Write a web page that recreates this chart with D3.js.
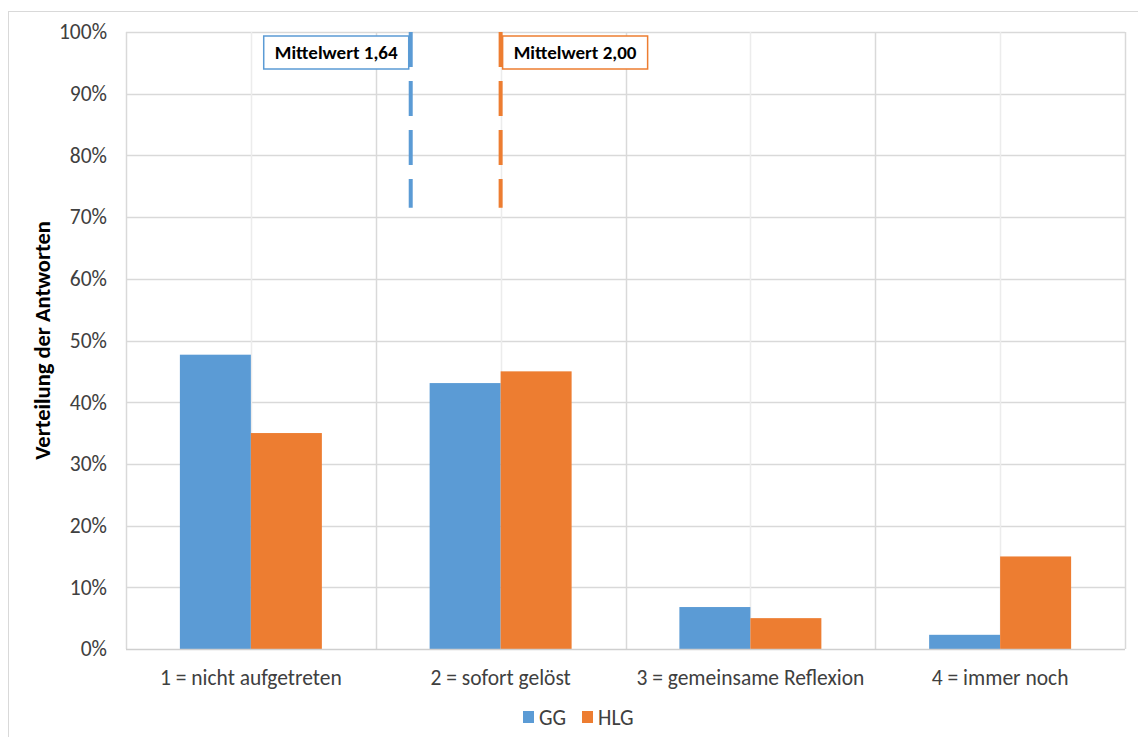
<!DOCTYPE html>
<html>
<head>
<meta charset="utf-8">
<script src="https://cdn.jsdelivr.net/npm/d3@7"></script>
<style>
  html, body { margin: 0; padding: 0; background: #fff; }
  svg { display: block; font-family: Carlito, Lato, "Liberation Sans", sans-serif; }
</style>
</head>
<body>
<svg id="chart" width="1138" height="737"></svg>
<script>
// Answer categories and the share of answers per group
const categories = ["1 = nicht aufgetreten", "2 = sofort gelöst", "3 = gemeinsame Reflexion", "4 = immer noch"];
const seriesNames = ["GG", "HLG"];
const ggValues = [0.477, 0.431, 0.068, 0.023];
const hlgValues = [0.35, 0.45, 0.05, 0.15];
const yTicks = [0, 0.1, 0.2, 0.3, 0.4, 0.5, 0.6, 0.7, 0.8, 0.9, 1.0];
// Group means on the 1–4 answer scale
const meanValues = [1.64, 2.00];
const meanLabels = ["Mittelwert 1,64", "Mittelwert 2,00"];
const meanSpan = [1.0, 0.715];

const colors = { GG: "#5b9bd5", HLG: "#ed7d31" };
const gridMajor = "#d9d9d9";
const gridMinor = "#ececec";
const textColor = "#404040";
const fontSize = 21.5;

const svg = d3.select("#chart");
const margin = { left: 126, top: 32, right: 1125, bottom: 649 };

// Outer chart frame
svg.append("rect")
  .attr("x", 8.5).attr("y", 11.5)
  .attr("width", 1150).attr("height", 760)
  .attr("fill", "none").attr("stroke", gridMajor).attr("stroke-width", 1);

const y = d3.scaleLinear().domain([0, 1]).range([margin.bottom, margin.top]);
const x = d3.scaleBand().domain(categories).range([margin.left, margin.right]).padding(0);
// Continuous position along the answer scale (1..4 at category centres)
const xs = d3.scaleLinear().domain([0.5, 4.5]).range([margin.left, margin.right]);
const bw = x.bandwidth();
const x1 = d3.scaleBand().domain(seriesNames).range([0, bw]).paddingInner(0).paddingOuter(0.759);

const grid = svg.append("g");
// Horizontal gridlines
grid.selectAll("line.h").data(yTicks.slice(1)).join("line")
  .attr("x1", margin.left).attr("x2", margin.right)
  .attr("y1", d => Math.round(y(d)) + 0.5).attr("y2", d => Math.round(y(d)) + 0.5)
  .attr("stroke", gridMajor).attr("stroke-width", 1.5);
// Minor vertical gridlines at category centres
grid.selectAll("line.vm").data([1, 2, 3, 4]).join("line")
  .attr("x1", d => Math.round(xs(d)) + 0.5).attr("x2", d => Math.round(xs(d)) + 0.5)
  .attr("y1", margin.top).attr("y2", margin.bottom)
  .attr("stroke", gridMinor).attr("stroke-width", 1.5);
// Major vertical gridlines at category boundaries
grid.selectAll("line.v").data([0.5, 1.5, 2.5, 3.5, 4.5]).join("line")
  .attr("x1", d => Math.round(xs(d)) + 0.5).attr("x2", d => Math.round(xs(d)) + 0.5)
  .attr("y1", margin.top).attr("y2", margin.bottom)
  .attr("stroke", gridMajor).attr("stroke-width", 1.5);

// Bars
const rows = categories.map((c, i) => ({ cat: c, GG: ggValues[i], HLG: hlgValues[i] }));
const groups = svg.append("g").selectAll("g").data(rows).join("g")
  .attr("transform", d => `translate(${x(d.cat)},0)`);
groups.selectAll("rect").data(d => seriesNames.map(s => ({ s, v: d[s] }))).join("rect")
  .attr("x", d => x1(d.s))
  .attr("width", x1.bandwidth())
  .attr("y", d => y(d.v))
  .attr("height", d => y(0) - y(d.v))
  .attr("fill", d => colors[d.s]);

// Baseline
svg.append("line")
  .attr("x1", margin.left).attr("x2", margin.right)
  .attr("y1", margin.bottom + 0.5).attr("y2", margin.bottom + 0.5)
  .attr("stroke", "#cfcfcf").attr("stroke-width", 1.5);

// Y axis labels
const yAxis = d3.axisLeft(y).tickValues(yTicks).tickFormat(d3.format(".0%")).tickSize(0).tickPadding(19);
const yg = svg.append("g").attr("transform", `translate(${margin.left},0)`).call(yAxis);
yg.select(".domain").remove();
yg.selectAll("text").attr("font-size", fontSize).attr("fill", textColor).attr("font-family", "Carlito, Lato, sans-serif");

// X axis labels
const xAxis = d3.axisBottom(x).tickSize(0).tickPadding(21);
const xg = svg.append("g").attr("transform", `translate(0,${margin.bottom})`).call(xAxis);
xg.select(".domain").remove();
xg.selectAll("text").attr("font-size", fontSize).attr("fill", textColor).attr("font-family", "Carlito, Lato, sans-serif");

// Y axis title
svg.append("text")
  .attr("transform", `translate(50,${(margin.top + margin.bottom) / 2}) rotate(-90)`)
  .attr("text-anchor", "middle")
  .attr("font-size", 22.5).attr("font-weight", "bold").attr("fill", "#000")
  .text("Verteilung der Antworten");

// Mean markers: dashed vertical lines with labelled boxes
const meanColors = [colors.GG, colors.HLG];
meanValues.forEach((m, i) => {
  const mx = xs(m);
  svg.append("line")
    .attr("x1", mx).attr("x2", mx)
    .attr("y1", y(meanSpan[0])).attr("y2", y(meanSpan[1]))
    .attr("stroke", meanColors[i]).attr("stroke-width", 4)
    .attr("stroke-dasharray", "35,14");
  const boxW = 145, boxH = 33, boxY = 36;
  const bx = i === 0 ? mx - 2 - boxW : mx + 2;
  svg.append("rect")
    .attr("x", bx).attr("y", boxY).attr("width", boxW).attr("height", boxH)
    .attr("fill", "#fff").attr("stroke", meanColors[i]).attr("stroke-width", 1.5);
  svg.append("text")
    .attr("x", bx + boxW / 2).attr("y", boxY + boxH / 2)
    .attr("dy", "0.35em").attr("text-anchor", "middle")
    .attr("font-size", 19).attr("font-weight", "bold").attr("fill", "#000")
    .text(meanLabels[i]);
});

// Legend
const legend = svg.append("g").attr("transform", "translate(523,717)");
const legendItems = [{ s: "GG", dx: 0 }, { s: "HLG", dx: 59 }];
legendItems.forEach(it => {
  legend.append("rect").attr("x", it.dx).attr("y", -6).attr("width", 11).attr("height", 12).attr("fill", colors[it.s]);
  legend.append("text").attr("x", it.dx + 16).attr("y", 0).attr("dy", "0.35em")
    .attr("font-size", fontSize).attr("fill", textColor).text(it.s);
});
</script>
</body>
</html>
